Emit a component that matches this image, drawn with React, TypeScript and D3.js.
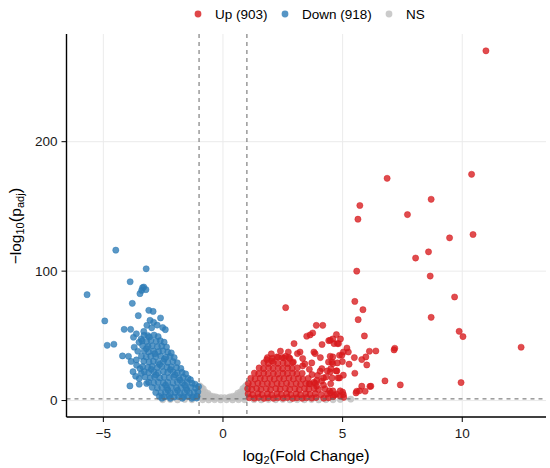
import React from "react";
import * as d3 from "d3";

type P = [number, number];

const xTicks = [-5, 0, 5, 10];
const yTicks = [0, 100, 200];
const fcCut = 1;
const pCut = 1.3;
const legendLabels = ["Up (903)", "Down (918)", "NS"];

// Down-regulated genes: [log2FC, -log10(padj)]
const downPoints: P[] = [
  [-4.48, 116.2], [-3.21, 101.8], [-5.68, 81.8], [-3.88, 91.8], [-3.36, 87.2], [-3.31, 87.7],
  [-3.4, 85.1], [-3.22, 85.7], [-3.47, 82.6], [-3.79, 75.1], [-3.1, 69.7], [-2.92, 68.9],
  [-3.54, 65.6], [-2.61, 63.8], [-4.94, 61.5], [-4.13, 55], [-3.86, 55], [-4.84, 42.7],
  [-4.56, 43.5], [-3.51, 45], [-4.2, 34.5], [-3.95, 34.2], [-3.47, 24.7], [-3.61, 27.3],
  [-3.65, 18.8], [-3.5, 17], [-3.89, 11.3], [-3.5, 12.6], [-3.19, 13.2],
  [-3.05, 62], [-2.9, 60.5], [-2.75, 58.3], [-2.52, 56.4], [-2.41, 54.8], [-3.18, 58.1],
  [-2.98, 56.2], [-3.31, 53.4], [-3.62, 51.6], [-3.74, 48.9], [-3.14, 50.2], [-3.42, 47.4],
  [-3.71, 41.2], [-3.56, 38.1], [-3.84, 30.2], [-3.62, 31.4], [-3.76, 22.3], [-3.41, 21.1],
  [-3.3, 50.4], [-3.08, 49.1], [-2.88, 50.6], [-2.71, 49.5],
  [-3.38, 46.1], [-3.19, 45.6], [-3.01, 46.4], [-2.79, 45.8], [-2.62, 46.3], [-2.46, 45.1],
  [-3.36, 42.4], [-3.13, 41.8], [-2.96, 42.3], [-2.74, 41.6], [-2.56, 42.1], [-2.36, 41.4],
  [-3.29, 38.3], [-3.11, 37.6], [-2.91, 38.2], [-2.69, 37.8], [-2.51, 38.4], [-2.31, 37.5], [-2.16, 36.8],
  [-3.41, 34.2], [-3.21, 33.6], [-3.02, 34.3], [-2.81, 33.8], [-2.61, 34.4], [-2.39, 33.5], [-2.21, 34.1], [-2.04, 33.2],
  [-3.31, 30.4], [-3.09, 29.7], [-2.91, 30.3], [-2.71, 29.6], [-2.49, 30.2], [-2.31, 29.5], [-2.09, 30.1], [-1.91, 29.2],
  [-3.36, 26.2], [-3.14, 25.7], [-2.96, 26.4], [-2.74, 25.6], [-2.56, 26.3], [-2.34, 25.8], [-2.16, 26.1], [-1.94, 25.5], [-1.76, 24.8],
  [-3.29, 22.3], [-3.11, 21.6], [-2.89, 22.2], [-2.71, 21.5], [-2.49, 22.4], [-2.31, 21.7], [-2.09, 22.1], [-1.91, 21.4], [-1.71, 21.8], [-1.56, 20.6],
  [-3.26, 18.2], [-3.04, 17.6], [-2.86, 18.3], [-2.64, 17.5], [-2.46, 18.1], [-2.24, 17.7], [-2.06, 18.2], [-1.84, 17.4], [-1.66, 18.1], [-1.46, 17.2], [-1.36, 16.1],
  [-3.11, 14.2], [-2.89, 13.7], [-2.71, 14.3], [-2.49, 13.6], [-2.31, 14.1], [-2.09, 13.5], [-1.91, 14.2], [-1.69, 13.6], [-1.51, 14.1], [-1.29, 13.4], [-1.16, 12.6],
  [-2.96, 10.2], [-2.74, 9.7], [-2.56, 10.3], [-2.34, 9.6], [-2.16, 10.2], [-1.94, 9.8], [-1.76, 10.1], [-1.54, 9.5], [-1.36, 10.2], [-1.14, 9.6], [-1.02, 10.8],
  [-2.81, 6.2], [-2.59, 5.8], [-2.41, 6.3], [-2.19, 5.7], [-2.01, 6.2], [-1.79, 5.6], [-1.61, 6.1], [-1.39, 5.8], [-1.21, 6.3], [-1.05, 6.8],
  [-2.66, 3.2], [-2.44, 2.8], [-2.26, 3.3], [-2.04, 2.7], [-1.86, 3.1], [-1.64, 2.9], [-1.46, 3.2], [-1.24, 2.8], [-1.08, 3.4],
  [-2.55, 1.8], [-2.2, 1.7], [-1.7, 1.8], [-1.3, 1.7], [-1.1, 1.9],
  [-3.2, 40.1], [-2.85, 36.2], [-2.45, 32.1], [-2.65, 27.9], [-2.2, 24.0], [-2.0, 19.9], [-1.8, 15.8],
  [-1.6, 11.9], [-2.8, 19.9], [-3.0, 24.1], [-2.4, 12.0], [-1.9, 7.9], [-2.3, 8.0], [-1.5, 7.9],
];

// Up-regulated genes: [log2FC, -log10(padj)]
const upPoints: P[] = [
  [10.99, 270.2], [6.86, 171.7], [10.39, 174.8], [5.72, 150.7], [8.7, 155.5], [5.64, 140.1],
  [7.71, 143.7], [10.45, 128.3], [9.47, 125.7], [8.59, 114.9], [8.05, 110.1], [5.59, 100],
  [8.66, 96.2], [9.68, 80], [5.51, 76.6], [5.85, 70.2], [5.65, 62.5], [8.7, 64.3],
  [9.87, 53.5], [10.03, 49.4], [5.91, 49.9], [12.46, 41.2], [7.18, 40.4], [7.15, 39.1],
  [6.12, 38.1], [6.39, 38.3], [4.74, 51], [4.91, 47.6], [4.48, 46.6], [4.64, 44],
  [4.78, 44], [5.18, 40.6], [5.03, 37.5], [5.24, 37.5], [4.59, 33.7], [4.87, 35],
  [4.97, 35], [5.49, 33.2], [5.97, 33.7], [5.8, 31.7], [6.01, 27.5], [4.55, 29.8],
  [4.99, 30.1], [5.27, 28.1], [4.76, 22.9], [4.48, 22.1], [5.03, 19.6], [5.51, 21.1],
  [4.81, 17.5], [4.56, 17.5], [6.77, 15.2], [7.41, 12.1], [9.95, 13.9], [5.8, 11.1],
  [6.14, 10.9], [6.18, 11.1], [5.59, 7.2], [5.56, 5.9], [5.94, 7.2], [5.7, 7.5],
  [4.5, 6], [4.75, 5], [5.0, 6.5], [4.6, 3], [4.9, 3.5], [5.05, 2.5],
  [2.62, 71.8], [3.9, 58.1], [4.17, 58.1], [3.75, 52.2], [3.64, 50.7], [3.5, 49.7],
  [4.59, 47.6], [4.83, 44], [4.42, 46.3], [4.14, 43.3], [2.97, 44], [2.73, 37.5],
  [3.22, 37.5], [3.11, 36.3], [3.8, 37.5], [3.85, 36.3], [2.25, 33.7], [2.47, 33.2],
  [2.62, 34.2], [2.8, 32.5], [3.33, 32.5], [2.94, 29.8], [4.07, 33.2], [4.48, 34.2],
  [1.83, 31.7], [2.04, 30.6], [3.71, 29.1], [3.33, 26.8], [4.41, 29.8], [4.59, 28.6],
  [4.78, 29.1], [4.13, 24.7], [4.06, 22.7], [4.36, 22.9], [4.51, 24.7], [4.73, 22.9],
  [3.95, 19.4], [4.2, 17.5], [3.92, 15.7], [4.87, 17.5], [3.8, 14], [3.6, 13],
  [4.2, 12], [4.5, 13], [4.45, 7.5], [4.59, 7.5], [4.9, 7.5], [4.66, 4.3], [5.03, 4.6],
  [2.4, 38.2], [2.02, 36.1], [3.42, 28.3], [3.61, 24.2], [3.72, 20.1], [3.91, 11.2],
  [4.12, 15.1], [4.31, 18.2],
  [1.86, 33.2], [2.06, 32.6], [2.31, 33.4], [2.56, 32.8], [2.76, 33.1],
  [1.71, 29.2], [1.89, 28.6], [2.11, 29.3], [2.29, 28.7], [2.51, 29.1], [2.69, 28.5], [2.91, 29.2],
  [1.51, 25.2], [1.69, 24.6], [1.91, 25.3], [2.09, 24.7], [2.31, 25.1], [2.49, 24.5], [2.71, 25.2], [2.89, 24.8], [3.11, 25.3],
  [1.31, 21.2], [1.49, 20.6], [1.71, 21.3], [1.89, 20.7], [2.11, 21.1], [2.29, 20.5], [2.51, 21.2], [2.69, 20.8], [2.91, 21.3], [3.09, 20.6], [3.31, 21.1],
  [1.16, 17.2], [1.34, 16.6], [1.56, 17.3], [1.74, 16.7], [1.96, 17.1], [2.14, 16.5], [2.36, 17.2], [2.54, 16.8], [2.76, 17.3], [2.94, 16.6], [3.16, 17.1], [3.34, 16.5], [3.56, 17.2],
  [1.06, 13.2], [1.24, 12.6], [1.46, 13.3], [1.64, 12.7], [1.86, 13.1], [2.04, 12.5], [2.26, 13.2], [2.44, 12.8], [2.66, 13.3], [2.84, 12.6], [3.06, 13.1], [3.24, 12.5], [3.46, 13.2], [3.64, 12.8], [3.86, 13.3],
  [1.03, 9.2], [1.21, 8.6], [1.41, 9.3], [1.59, 8.7], [1.81, 9.1], [1.99, 8.5], [2.21, 9.2], [2.39, 8.8], [2.61, 9.3], [2.79, 8.6], [3.01, 9.1], [3.19, 8.5], [3.41, 9.2], [3.59, 8.8], [3.81, 9.3], [3.99, 8.6], [4.26, 9.1],
  [1.05, 5.2], [1.24, 4.6], [1.46, 5.3], [1.64, 4.7], [1.86, 5.1], [2.04, 4.5], [2.26, 5.2], [2.44, 4.8], [2.66, 5.3], [2.84, 4.6], [3.06, 5.1], [3.24, 4.5], [3.46, 5.2], [3.64, 4.8], [3.86, 5.3], [4.11, 4.6], [4.36, 5.1],
  [1.1, 2.2], [1.31, 1.8], [1.49, 2.3], [1.71, 1.7], [1.89, 2.1], [2.11, 1.8], [2.29, 2.2], [2.51, 1.9], [2.69, 2.3], [2.91, 1.7], [3.09, 2.1], [3.31, 1.8], [3.49, 2.2], [3.71, 1.9], [3.89, 2.3], [4.21, 1.8], [4.41, 2.1],
];

// Not significant genes: [log2FC, -log10(padj)]
const nsPoints: P[] = [
  [-0.97, 11.4], [-0.9, 10.2], [-0.82, 9.1], [0.83, 9.3], [0.91, 10.4], [0.97, 11.8],
  [-0.96, 7.8], [-0.85, 7.4], [-0.74, 6.6], [-0.63, 5.6], [0.62, 5.7], [0.73, 6.7], [0.85, 7.5], [0.96, 8.1],
  [-0.93, 4.9], [-0.8, 4.6], [-0.67, 4.2], [-0.54, 3.8], [-0.42, 3.3], [-0.3, 2.9],
  [0.29, 2.9], [0.41, 3.3], [0.53, 3.8], [0.66, 4.3], [0.79, 4.7], [0.92, 5.0],
  [-0.92, 2.3], [-0.78, 2.1], [-0.64, 2.2], [-0.5, 2.0], [-0.36, 2.1], [-0.22, 2.2], [-0.08, 2.3],
  [0.07, 2.2], [0.21, 2.1], [0.35, 2.0], [0.49, 2.2], [0.63, 2.1], [0.77, 2.3], [0.91, 2.2],
  [-0.85, 0.6], [-0.6, 0.5], [-0.35, 0.7], [-0.1, 0.5], [0.15, 0.6], [0.4, 0.5], [0.65, 0.7], [0.9, 0.6],
  [-2.52, 0.6], [-2.2, 0.8], [-1.9, 0.5], [-1.6, 0.9], [-1.3, 0.6], [1.3, 0.7], [1.6, 0.5],
  [1.9, 0.8], [2.2, 0.6], [2.5, 0.9], [2.8, 0.5], [3.1, 0.7], [3.4, 0.6], [3.7, 0.8],
  [4.0, 0.5], [4.3, 0.7], [4.6, 0.6], [4.9, 0.8], [5.34, 1.1],
];

const W = 550;
const H = 468;
const left = 66.5;
const right = 546;
const top = 34;
const bottom = 417;

const RED = "#D7191C";
const BLUE = "#2C7BB6";
const GREY = "#BEBEBE";
const FONT = "'Liberation Sans', Arial, Helvetica, sans-serif";

export default function App() {
  const x = d3.scaleLinear().domain([-6.54, 13.5]).range([left, right]);
  const y = d3.scaleLinear().domain([-12.7, 283.2]).range([bottom, top]);

  const dots = (pts: P[], color: string) =>
    pts.map((p, i) => (
      <circle
        key={color + i}
        cx={x(p[0])}
        cy={y(p[1])}
        r={3.1}
        fill={color}
        fillOpacity={0.78}
        stroke={color}
        strokeOpacity={0.9}
        strokeWidth={0.5}
      />
    ));

  const legendColors = [RED, BLUE, GREY];
  const legendX = [198, 285, 389];

  return (
    <svg width={W} height={H} style={{ display: "block", position: "absolute", left: 0, top: 0 }} fontFamily={FONT}>
      <rect width={W} height={H} fill="#fff" />
      {xTicks.map((t) => (
        <line key={"gx" + t} x1={x(t)} x2={x(t)} y1={top} y2={bottom} stroke="#EBEBEB" strokeWidth={1} />
      ))}
      {yTicks.map((t) => (
        <line key={"gy" + t} x1={left} x2={right} y1={y(t)} y2={y(t)} stroke="#EBEBEB" strokeWidth={1} />
      ))}
      {dots(nsPoints, GREY)}
      {dots(upPoints, RED)}
      {dots(downPoints, BLUE)}
      {[-fcCut, fcCut].map((v) => (
        <line key={"v" + v} x1={x(v)} x2={x(v)} y1={top} y2={bottom} stroke="#666" strokeWidth={1} strokeDasharray="4,4" />
      ))}
      <line x1={left} x2={right} y1={y(pCut)} y2={y(pCut)} stroke="#666" strokeWidth={1} strokeDasharray="4,4" />
      <line x1={left} x2={left} y1={top} y2={bottom} stroke="#000" strokeWidth={1.4} />
      <line x1={left} x2={right} y1={bottom} y2={bottom} stroke="#000" strokeWidth={1.4} />
      {yTicks.map((t) => (
        <g key={"yt" + t}>
          <line x1={left - 5} x2={left} y1={y(t)} y2={y(t)} stroke="#000" strokeWidth={1} />
          <text x={left - 9} y={y(t)} dy="0.35em" textAnchor="end" fontSize={13.5} fill="#1a1a1a">
            {t}
          </text>
        </g>
      ))}
      {xTicks.map((t) => (
        <g key={"xt" + t}>
          <line x1={x(t)} x2={x(t)} y1={bottom} y2={bottom + 5} stroke="#000" strokeWidth={1} />
          <text x={x(t)} y={bottom + 21} textAnchor="middle" fontSize={13.5} fill="#1a1a1a">
            {t < 0 ? "\u2212" + Math.abs(t) : t}
          </text>
        </g>
      ))}
      <text x={(left + right) / 2} y={461} textAnchor="middle" fontSize={15.5} fill="#000">
        log
        <tspan fontSize={11} dy={3}>2</tspan>
        <tspan dy={-3} fontSize={17}>(</tspan>
        <tspan>Fold Change</tspan>
        <tspan fontSize={17}>)</tspan>
      </text>
      <text transform="translate(21,226) rotate(-90)" textAnchor="middle" fontSize={15.5} fill="#000">
        {"\u2212log"}
        <tspan fontSize={11} dy={3}>10</tspan>
        <tspan dy={-3} fontSize={17}>(</tspan>
        <tspan>p</tspan>
        <tspan fontSize={11} dy={3}>adj</tspan>
        <tspan dy={-3} fontSize={17}>)</tspan>
      </text>
      {legendLabels.map((lab, i) => (
        <g key={lab}>
          <circle cx={legendX[i]} cy={14} r={3.4} fill={legendColors[i]} fillOpacity={0.8} />
          <text x={legendX[i] + 17} y={14} dy="0.35em" fontSize={13.5} fill="#000">
            {lab}
          </text>
        </g>
      ))}
    </svg>
  );
}
